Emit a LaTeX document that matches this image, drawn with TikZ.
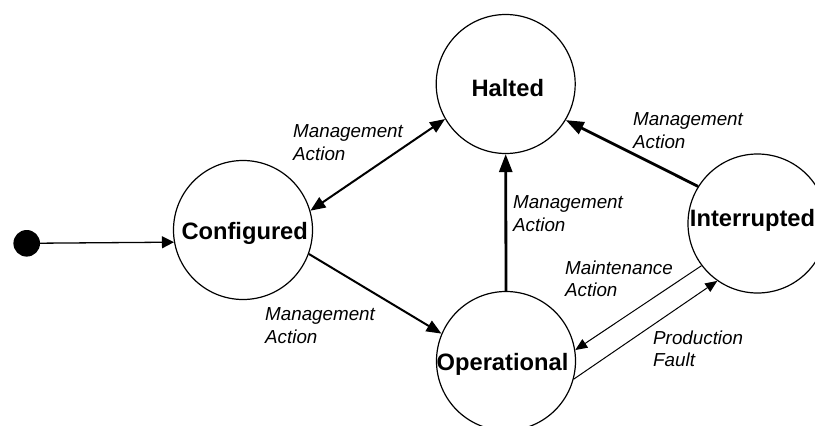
\documentclass[tikz,border=0pt]{standalone}
\usepackage{fontspec}
\setmainfont{Liberation Sans}
\usetikzlibrary{arrows.meta}
\begin{document}
\begin{tikzpicture}[x=1pt,y=-1pt,
  state/.style={circle, draw, line width=1.2pt, minimum size=139pt, inner sep=0pt},
  statename/.style={font=\bfseries\fontsize{23.7}{28}\selectfont, anchor=base, inner sep=0pt},
  note/.style={font=\itshape\fontsize{18.8}{22.5}\selectfont, anchor=base west, align=left, inner sep=0pt},
  initial/.style={circle, fill, minimum size=26.6pt, inner sep=0pt},
  thinarrow/.style={line width=1pt, -{Triangle[length=12pt,width=10pt]}},
  startarrow/.style={line width=1.3pt, -{Triangle[length=12pt,width=12pt]}},
  medarrow/.style={line width=2pt, -{Triangle[length=15pt,width=12pt]}},
  medboth/.style={line width=2pt, {Triangle[length=15pt,width=12pt]}-{Triangle[length=15pt,width=12pt]}},
  heavyarrow/.style={line width=2.8pt, -{Triangle[length=18pt,width=13pt]}}
]
\path[use as bounding box, clip] (0,0) rectangle (815,426);

% states
\node[state] (halt) at (505.7,84) {};
\node[state] (conf) at (243,230) {};
\node[state] (oper) at (506,361) {};
\node[state] (intr) at (757.5,223.5) {};
\node[initial] (start) at (26.7,243.3) {};

% state names
\node[statename] (haltname) at (507.8,96.7) {Halted};
\node[statename] (confname) at (244.7,239.3) {Configured};
\node[statename] (opername) at (502.5,370.7) {Operational};
\node[statename] (intrname) at (752.5,226.7) {Interrupted};

% transitions
\draw[startarrow] (start) -- (conf.190.6);
\draw[medboth] (halt.210) -- (conf.16);
\draw[medarrow] (conf.-20.5) -- (oper.157.6);
\draw[heavyarrow] (oper.90) -- (halt.270);
\draw[heavyarrow] (intr.148) -- (halt.329);
\draw[thinarrow] (intr.217.7) -- (oper.9.2);
\draw[thinarrow] (oper.-15.4) -- (intr.235);

% transition labels (anchored at the baseline of the last line)
\node[note] (l1) at (293,160) {Management\\Action};
\node[note] (l2) at (265,343) {Management\\Action};
\node[note] (l3) at (513,231) {Management\\Action};
\node[note] (l4) at (633,148.3) {Management\\Action};
\node[note] (l5) at (565,296.7) {Maintenance\\Action};
\node[note] (l6) at (653,366.7) {Production\\Fault};
\end{tikzpicture}
\end{document}
